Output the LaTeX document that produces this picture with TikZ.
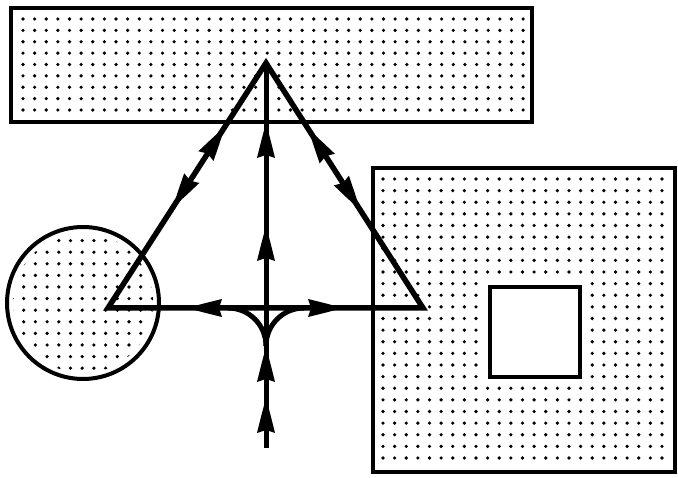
\documentclass[tikz,border=0pt]{standalone}
\usetikzlibrary{calc}
\newcommand\ahead[2]{%
  \path ($(#1)!18pt!(#2)$) coordinate (ba) ($(#1)!35pt!(#2)$) coordinate (bb) ($(#1)!32pt!(#2)$) coordinate (bi);
  \fill[black] (#1) -- ($(ba)!4.8pt!90:(#1)$) -- ($(bb)!9pt!90:(#1)$) -- (bi)
     -- ($(bb)!9pt!-90:(#1)$) -- ($(ba)!4.8pt!-90:(#1)$) -- cycle;}
\begin{document}
\begin{tikzpicture}[x=1pt,y=-1pt,
  dot/.style={fill=black},
  outline/.style={draw=black,line width=4.5pt},
  tri/.style={draw=black,line width=5.5pt},
  stem/.style={draw=black,line width=5pt}]
\useasboundingbox (0,0) rectangle (678,478);

% top rectangle
\foreach \i in {0,...,43}{\foreach \j in {0,...,8}{\fill[dot] (23+\i*11.63, 19+\j*11.38) circle[radius=1.8];}}
\draw[outline] (11,8) rectangle (532,122);

% circle
\begin{scope}
\clip (83,303) circle[radius=70];
\foreach \i in {0,...,12}{\foreach \j in {0,...,12}{\fill[dot] (12+\i*11.7, 229+\j*11.6) circle[radius=1.8];}}
\end{scope}
\draw[line width=4pt] (83,303) circle[radius=76];

% big square
\foreach \i in {0,...,24}{\foreach \j in {0,...,24}{\fill[dot] (383+\i*11.625, 179+\j*11.625) circle[radius=1.8];}}
\draw[outline] (373,168) rectangle (675,472);
\fill[white] (484,280) rectangle (586,383);
\draw[outline] (490,287) rectangle (580,377);

% triangle and network
\coordinate (A) at (266,63);
\coordinate (L) at (108,308);
\coordinate (R) at (423,308);
\coordinate (B) at (266,448);
\coordinate (C) at (266,346);
\coordinate (CL) at (228,308);
\coordinate (CR) at (304,308);
\draw[tri] (A) -- (L) -- (R) -- cycle;
\draw[stem] (A) -- (B);
\draw[stem] (C) .. controls (266,325) and (249,308) .. (CL);
\draw[stem] (C) .. controls (266,325) and (283,308) .. (CR);

% arrowheads on the triangle sides
\path (A) -- (L) coordinate[pos=0.26] (la) coordinate[pos=0.59] (lb);
\path (A) -- (R) coordinate[pos=0.27] (ra) coordinate[pos=0.60] (rb);
\ahead{la}{L}
\ahead{lb}{A}
\ahead{ra}{R}
\ahead{rb}{A}

% arrowheads on the vertical line
\coordinate (v1) at (266,123);
\coordinate (v2) at (266,226);
\coordinate (v3) at (266,347);
\coordinate (v4) at (266,398);
\ahead{v1}{B}
\ahead{v2}{B}
\ahead{v3}{B}
\ahead{v4}{B}

% arrowheads on the base
\coordinate (h1) at (187,308);
\coordinate (h2) at (343,308);
\ahead{h1}{R}
\ahead{h2}{L}
\end{tikzpicture}
\end{document}
